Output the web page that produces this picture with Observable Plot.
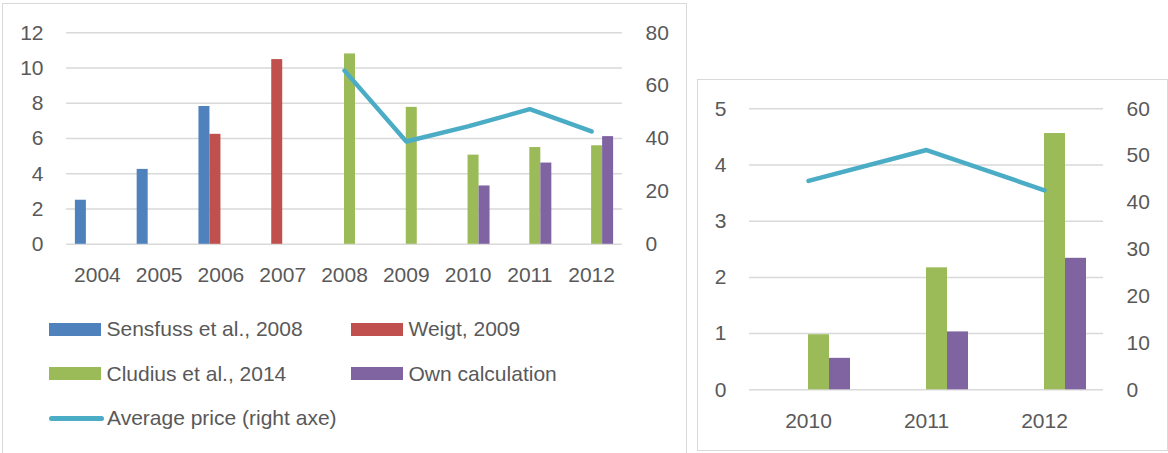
<!DOCTYPE html>
<html><head><meta charset="utf-8">
<script src="https://cdn.jsdelivr.net/npm/d3@7"></script>
<script src="https://cdn.jsdelivr.net/npm/@observablehq/plot@0.6"></script>
<style>
body{margin:0;background:#fff;font-family:"Liberation Sans",Arial,sans-serif;color:#595959;}
#page{position:relative;width:1168px;height:453px;overflow:hidden;background:#fff;}
.frame{position:absolute;border:1px solid #d9d9d9;box-sizing:border-box;}
#f1{left:2px;top:3px;width:685px;height:470px;}
#f2{left:697px;top:79px;width:471px;height:372px;}
#c1{position:absolute;left:0;top:0;}
#c2{position:absolute;left:697px;top:80px;}
#legend{position:absolute;left:49px;top:307px;display:grid;grid-template-columns:302px 302px;grid-auto-rows:44.5px;font-size:21px;color:#595959;}
.item{display:flex;align-items:center;white-space:nowrap;}
.sw{width:52px;height:13px;margin-right:5.5px;flex:none;}
.ln{width:55px;height:4.5px;border-radius:2.5px;margin-right:3px;flex:none;}
</style></head><body>
<div id="page">
  <div class="frame" id="f1"></div>
  <div class="frame" id="f2"></div>
  <div id="c1"></div>
  <div id="c2"></div>
  <div id="legend"></div>
</div>
<script>
// ---- data: left panel ----
const years = ["2004","2005","2006","2007","2008","2009","2010","2011","2012"];
const sensfuss = [2.5, 4.25, 7.82, null, null, null, null, null, null];
const weigt    = [null, null, 6.24, 10.48, null, null, null, null, null];
const cludius  = [null, null, null, null, 10.8, 7.77, 5.06, 5.49, 5.59];
const own      = [null, null, null, null, null, null, 3.31, 4.61, 6.11];
const price    = [null, null, null, null, 65.7, 38.9, 44.6, 51.1, 42.7];
const leftTicks  = [0, 2, 4, 6, 8, 10, 12];
const rightTicks = [0, 20, 40, 60, 80];

// ---- data: right panel ----
const years2   = ["2010","2011","2012"];
const cludius2 = [0.98, 2.17, 4.56];
const own2     = [0.56, 1.03, 2.34];
const price2   = [44.6, 51.2, 42.6];
const leftTicks2  = [0, 1, 2, 3, 4, 5];
const rightTicks2 = [0, 10, 20, 30, 40, 50, 60];

// ---- series ----
const seriesNames  = ["Sensfuss et al., 2008", "Weigt, 2009", "Cludius et al., 2014", "Own calculation"];
const seriesColors = ["#4f81bd", "#c0504d", "#9bbb59", "#8064a2"];
const lineName  = "Average price (right axe)";
const lineColor = "#4bacc6";

const BAR = 0.178; // fraction of category step per bar slot

function chart({cats, series, prices, yTicks, rTicks, width, height, mL, mR, mT, mB}) {
  const yMax = yTicks[yTicks.length - 1];
  const rMax = rTicks[rTicks.length - 1];
  const k = yMax / rMax;
  const marks = [
    Plot.gridY(yTicks, {stroke: "#d9d9d9", strokeOpacity: 1, strokeWidth: 1.5})
  ];
  for (const s of series) {
    const rows = [];
    s.values.forEach((v, i) => { if (v != null) rows.push({i, v}); });
    marks.push(Plot.rect(rows, {
      x1: d => d.i + 0.5 + (s.slot - 2) * BAR,
      x2: d => d.i + 0.5 + (s.slot - 1) * BAR,
      y1: 0, y2: d => d.v,
      fill: s.color
    }));
  }
  const prow = [];
  prices.forEach((p, i) => { if (p != null) prow.push({i, p}); });
  marks.push(Plot.line(prow, {
    x: d => d.i + 0.5, y: d => d.p * k,
    stroke: lineColor, strokeWidth: 4.5, strokeLinecap: "round", strokeLinejoin: "round"
  }));
  marks.push(Plot.axisY(yTicks, {anchor: "left", tickSize: 0, tickPadding: 23, tickFormat: d => String(d)}));
  marks.push(Plot.axisY(rTicks.map(t => t * k), {anchor: "right", tickSize: 0, tickPadding: 23, tickFormat: d => String(Math.round(d / k))}));
  marks.push(Plot.axisX(cats.map((_, i) => i + 0.5), {anchor: "bottom", tickSize: 0, tickPadding: 23, tickFormat: d => cats[Math.floor(d)]}));
  return Plot.plot({
    width, height,
    marginLeft: mL, marginRight: mR, marginTop: mT, marginBottom: mB,
    x: {type: "linear", domain: [0, cats.length], axis: null},
    y: {domain: [0, yMax], axis: null},
    style: {fontSize: "21px", fontFamily: "'Liberation Sans', Arial, sans-serif", color: "#595959", background: "transparent", overflow: "visible"},
    marks
  });
}

document.getElementById("c1").appendChild(chart({
  cats: years,
  series: [
    {values: sensfuss, slot: 0, color: seriesColors[0]},
    {values: weigt,    slot: 1, color: seriesColors[1]},
    {values: cludius,  slot: 2, color: seriesColors[2]},
    {values: own,      slot: 3, color: seriesColors[3]}
  ],
  prices: price, yTicks: leftTicks, rTicks: rightTicks,
  width: 690, height: 300, mL: 66, mR: 68, mT: 32.3, mB: 56.2
}));

document.getElementById("c2").appendChild(chart({
  cats: years2,
  series: [
    {values: cludius2, slot: 2, color: seriesColors[2]},
    {values: own2,     slot: 3, color: seriesColors[3]}
  ],
  prices: price2, yTicks: leftTicks2, rTicks: rightTicks2,
  width: 470, height: 370, mL: 52, mR: 64, mT: 28.3, mB: 60.7
}));

// ---- legend ----
const legend = document.getElementById("legend");
seriesNames.forEach((name, i) => {
  const it = document.createElement("div"); it.className = "item";
  const sw = document.createElement("span"); sw.className = "sw"; sw.style.background = seriesColors[i];
  const tx = document.createElement("span"); tx.textContent = name;
  it.appendChild(sw); it.appendChild(tx); legend.appendChild(it);
});
{
  const it = document.createElement("div"); it.className = "item";
  const sw = document.createElement("span"); sw.className = "ln"; sw.style.background = lineColor;
  const tx = document.createElement("span"); tx.textContent = lineName;
  it.appendChild(sw); it.appendChild(tx); legend.appendChild(it);
}
</script>
</body></html>
